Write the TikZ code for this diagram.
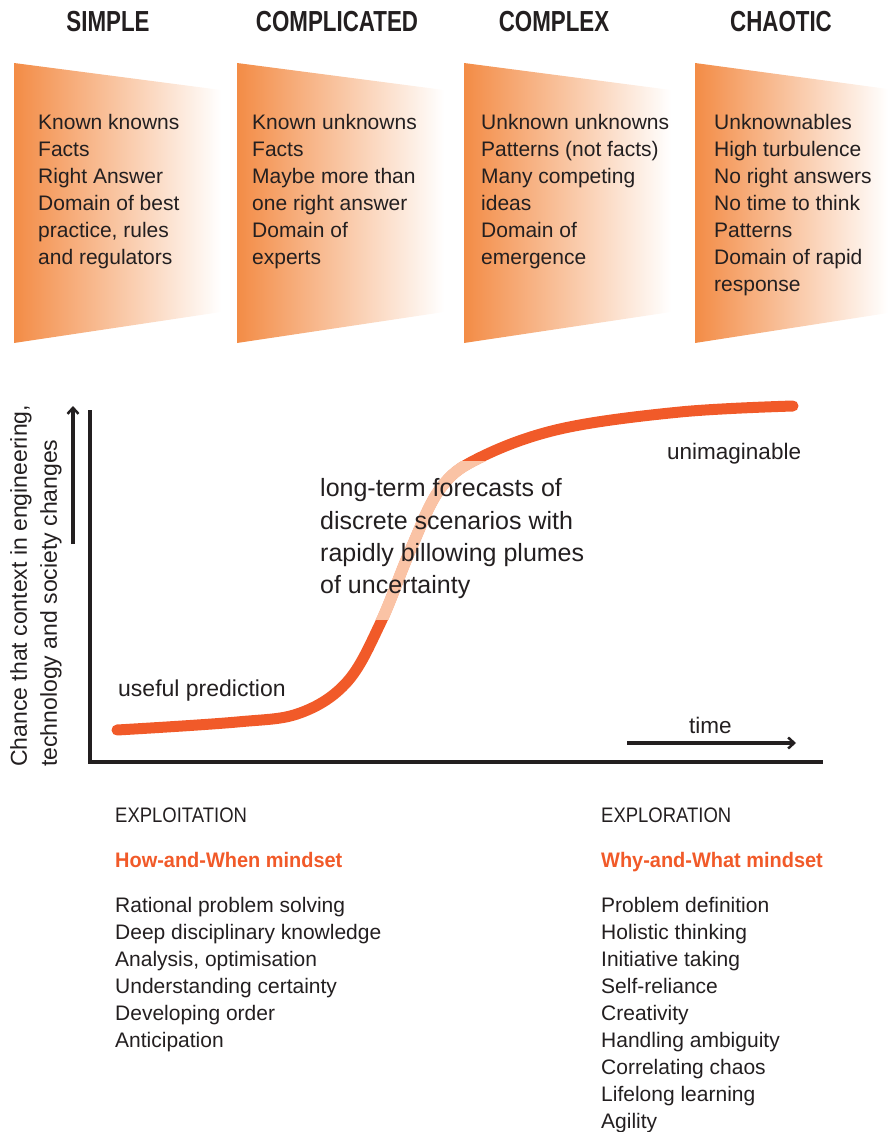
\documentclass[tikz,border=0pt]{standalone}
\usepackage{fontspec}
\setmainfont{Liberation Sans}
\newfontfamily\headfont{Liberation Sans}[FakeStretch=0.77]
\newfontfamily\capfont{Liberation Sans}[FakeStretch=0.88]
\newfontfamily\subfont{Liberation Sans}[FakeStretch=0.95]
\usetikzlibrary{arrows.meta}
\definecolor{ink}{RGB}{35,31,32}
\definecolor{boxor}{RGB}{243,140,70}
\definecolor{curvecol}{RGB}{241,90,41}
\definecolor{curvelt}{RGB}{250,195,165}
\begin{document}
\begin{tikzpicture}[x=1pt,y=-1pt,
  headtxt/.style={font=\headfont\bfseries\fontsize{29}{29}\selectfont, text=ink, inner sep=0},
  boxtxt/.style={font=\fontsize{21}{27}\selectfont, text=ink, align=left, anchor=north west, inner sep=0},
  gradbox/.style={left color=boxor, right color=white},
  lbl/.style={text=ink, inner sep=0, anchor=base west},
  caphead/.style={font=\capfont\fontsize{21}{21}\selectfont, text=ink, inner sep=0, anchor=base west},
  mindtxt/.style={font=\subfont\bfseries\fontsize{21}{21}\selectfont, text=curvecol, inner sep=0, anchor=base west},
  axisline/.style={draw=ink, line width=4pt},
  smallarrow/.style={draw=ink, line width=3.2pt, -{Straight Barb[length=6pt,width=11pt,line width=2.5pt]}},
  curveline/.style={line width=11pt, line cap=round}
]
\useasboundingbox (0,0) rectangle (888,1132);

% headings
\node[headtxt] (h1) at (108,22) {SIMPLE};
\node[headtxt] (h2) at (337,22) {COMPLICATED};
\node[headtxt] (h3) at (554,22) {COMPLEX};
\node[headtxt] (h4) at (781,22) {CHAOTIC};

% gradient boxes
\shade[gradbox] (14,63) -- (221,90) -- (221,312) -- (14,343) -- cycle;
\shade[gradbox] (237,63) -- (444,90) -- (444,312) -- (237,343) -- cycle;
\shade[gradbox] (464,63) -- (671,90) -- (671,312) -- (464,343) -- cycle;
\shade[gradbox] (695,63) -- (888,89) -- (888,313) -- (695,343) -- cycle;

\node[boxtxt] (t1) at (38,114.5) {Known knowns\\Facts\\Right Answer\\Domain of best\\practice, rules\\and regulators};
\node[boxtxt] (t2) at (252,114.5) {Known unknowns\\Facts\\Maybe more than\\one right answer\\Domain of\\experts};
\node[boxtxt] (t3) at (481,114.5) {Unknown unknowns\\Patterns (not facts)\\Many competing\\ideas\\Domain of\\emergence};
\node[boxtxt] (t4) at (714,114.5) {Unknownables\\High turbulence\\No right answers\\No time to think\\Patterns\\Domain of rapid\\response};

% axes
\draw[axisline, line join=miter] (90,410) -- (90,762) -- (823,762);
\coordinate (ya) at (73,544);
\coordinate (yb) at (73,406);
\draw[smallarrow] (ya) -- (yb);
\coordinate (ta) at (627,743);
\coordinate (tb) at (796,743);
\draw[smallarrow] (ta) -- (tb);

\node[font=\fontsize{23}{30}\selectfont, text=ink, inner sep=0, align=left, rotate=90, anchor=north west] (ylab) at (10,767)
  {Chance that context in engineering,\\technology and society changes};

% curve
\def\curvepath{plot[smooth, tension=0.6] coordinates {(117,730) (237,722) (300,713) (347,682) (380,624) (410,551) (440,489) (479,458) (560,429) (680,412) (793,406)}}
\draw[curveline, curvecol] \curvepath;
\begin{scope}
  \clip (0,461) rectangle (888,619);
  \draw[line width=11.6pt, curvelt] \curvepath;
\end{scope}

\node[lbl, font=\fontsize{23}{23}\selectfont] (useful) at (118,696) {useful prediction};
\node[lbl, font=\fontsize{22.5}{22.5}\selectfont] (unim) at (667,459) {unimaginable};
\node[lbl, font=\fontsize{22.5}{22.5}\selectfont] (time) at (689,733) {time};
\node[text=ink, inner sep=0, align=left, anchor=north west, font=\fontsize{25}{32.2}\selectfont] (mid) at (320,478.5)
  {long-term forecasts of\\discrete scenarios with\\rapidly billowing plumes\\of uncertainty};

% bottom
\node[caphead] (exl) at (115,822) {EXPLOITATION};
\node[mindtxt] (hw) at (115,867) {How-and-When mindset};
\node[boxtxt] (ll) at (115,897) {Rational problem solving\\Deep disciplinary knowledge\\Analysis, optimisation\\Understanding certainty\\Developing order\\Anticipation};
\node[caphead] (exr) at (601,822) {EXPLORATION};
\node[mindtxt] (ww) at (601,867) {Why-and-What mindset};
\node[boxtxt] (lr) at (601,897) {Problem definition\\Holistic thinking\\Initiative taking\\Self-reliance\\Creativity\\Handling ambiguity\\Correlating chaos\\Lifelong learning\\Agility};
\end{tikzpicture}
\end{document}
